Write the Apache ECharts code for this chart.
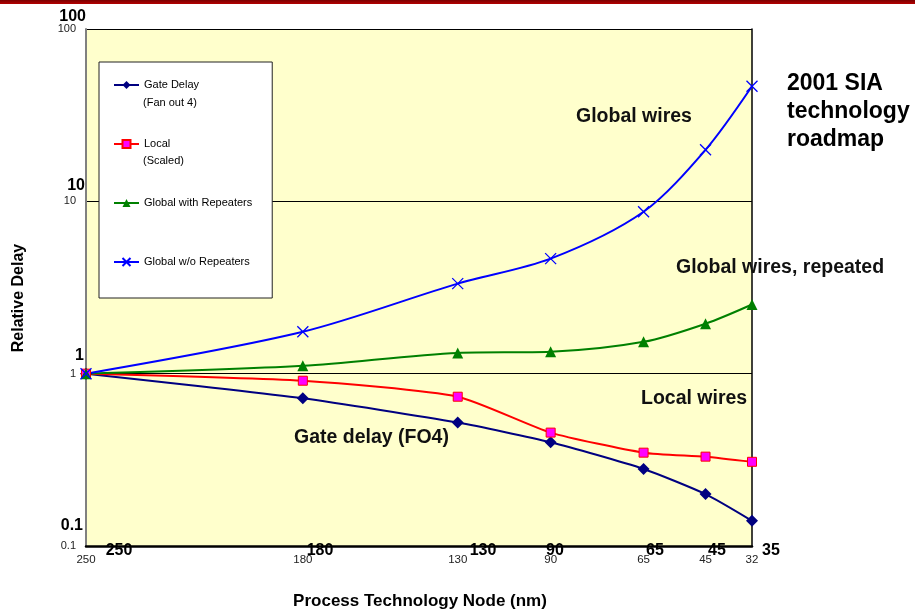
<!DOCTYPE html>
<html>
<head>
<meta charset="utf-8">
<title>Relative Delay vs Process Technology Node</title>
<script src="https://cdn.jsdelivr.net/npm/echarts@6/dist/echarts.min.js"></script>
<style>
  html, body { margin: 0; padding: 0; background: #ffffff; }
  #chart { width: 915px; height: 611px; }
</style>
</head>
<body>
<div id="chart"></div>
<script>
// Roadmap nodes (nm) used as x values, and the labels printed under them
const nodeValues = [250, 180, 130, 100, 70, 50, 35];
const nodeTickLabels = ['250', '180', '130', '90', '65', '45', '32'];
const nodeBoldLabels = ['250', '180', '130', '90', '65', '45', '35'];

// Relative delay, normalised to the 250 nm node
const gateDelay = [1, 0.72, 0.52, 0.40, 0.28, 0.20, 0.14];
const localWire = [1, 0.91, 0.735, 0.455, 0.348, 0.33, 0.308];
const globalRepeated = [1, 1.11, 1.32, 1.34, 1.53, 1.95, 2.52];
const globalUnrepeated = [1, 1.75, 3.33, 4.65, 8.7, 19.9, 46.5];

const seriesNames = ['Gate Delay', 'Local', 'Global with Repeaters', 'Global w/o Repeaters'];
const legendSubLines = ['(Fan out 4)', '(Scaled)'];

const yTickValues = [0.1, 1, 10, 100];
const yBoldLabels = ['0.1', '1', '10', '100'];

const annotations = ['Global wires', 'Global wires, repeated', 'Local wires', 'Gate delay (FO4)'];
const roadmapNote = ['2001 SIA', 'technology', 'roadmap'];
const xTitle = 'Process Technology Node (nm)';
const yTitle = 'Relative Delay';

// ---------------------------------------------------------------------------
const FONT = '"Liberation Sans", Arial, sans-serif';
const pairs = vals => nodeValues.map((x, i) => [x, vals[i]]);
const tickText = {};
nodeValues.forEach((v, i) => { tickText[v] = nodeTickLabels[i]; });

// screen placement of free-standing text
const boldXPos = [119, 320, 483, 555, 655, 717, 771];
const boldYPos = [[83, 526], [84, 356], [85, 186], [86, 17]];
const annotationPos = [[576, 117], [676, 268], [641, 399], [294, 438]];

const graphics = [
  { type: 'rect', left: 0, top: 0, shape: { width: 915, height: 4 },
    style: { fill: new echarts.graphic.LinearGradient(0, 0, 0, 1, [
      { offset: 0, color: '#7a0000' }, { offset: 1, color: '#b40000' }]) }, z: 10 },
  { type: 'text', x: 19, y: 298, rotation: Math.PI / 2,
    style: { text: yTitle, font: 'bold 16px ' + FONT, fill: '#000', align: 'center', verticalAlign: 'middle' } },
  { type: 'text', x: 420, y: 601,
    style: { text: xTitle, font: 'bold 17px ' + FONT, fill: '#000', align: 'center', verticalAlign: 'middle' } },
  { type: 'text', x: 787, y: 70,
    style: { text: roadmapNote.join('\n'), font: 'bold 23px ' + FONT, lineHeight: 28, fill: '#000', align: 'left', verticalAlign: 'top' } }
];
nodeBoldLabels.forEach((t, i) => graphics.push({
  type: 'text', x: boldXPos[i], y: 551, z: 20,
  style: { text: t, font: 'bold 16px ' + FONT, fill: '#000', align: 'center', verticalAlign: 'middle' }
}));
yBoldLabels.forEach((t, i) => graphics.push({
  type: 'text', x: boldYPos[i][0], y: boldYPos[i][1], z: 20,
  style: { text: t, font: 'bold 16px ' + FONT, fill: '#000', align: 'right', verticalAlign: 'middle' }
}));
annotations.forEach((t, i) => graphics.push({
  type: 'text', x: annotationPos[i][0], y: annotationPos[i][1], z: 20,
  style: { text: t, font: 'bold 19.5px ' + FONT, fill: '#111', align: 'left', verticalAlign: 'middle' }
}));
legendSubLines.forEach((t, i) => graphics.push({
  type: 'text', x: 143, y: 103 + i * 58, z: 20,
  style: { text: t, font: '11px ' + FONT, fill: '#000', align: 'left', verticalAlign: 'middle' }
}));

const chart = echarts.init(document.getElementById('chart'), null, { renderer: 'canvas' });

const lineSeries = (name, vals, color, symbol, size, smooth, itemStyle) => ({
  name, type: 'line', data: pairs(vals), smooth,
  symbol, symbolSize: size,
  lineStyle: { color, width: 2 },
  itemStyle: Object.assign({ color }, itemStyle || {}),
  emphasis: { disabled: true },
  z: 5
});

chart.setOption({
  animation: false,
  backgroundColor: '#ffffff',
  textStyle: { fontFamily: FONT },
  grid: { left: 86, top: 29, width: 666, height: 517, show: true,
          backgroundColor: '#FFFFCC', borderWidth: 0 },
  legend: {
    orient: 'vertical', left: 99, top: 62,
    data: seriesNames,
    itemWidth: 25, itemHeight: 10, itemGap: 45,
    padding: [16, 20, 29, 14],
    backgroundColor: '#ffffff', borderColor: '#222', borderWidth: 1,
    textStyle: { fontSize: 11, color: '#000', fontFamily: FONT, lineHeight: 14 },
    selectedMode: false
  },
  xAxis: {
    type: 'value', inverse: true, min: 35, max: 250,
    axisLine: { show: true, lineStyle: { color: '#000', width: 2.5 } },
    axisTick: { show: false },
    splitLine: { show: false },
    axisLabel: {
      customValues: nodeValues,
      formatter: v => tickText[v] || '',
      fontSize: 11.5, color: '#222', margin: 8, fontFamily: FONT
    }
  },
  yAxis: [{
    type: 'log', logBase: 10, min: 0.1, max: 100,
    axisLine: { show: true, lineStyle: { color: '#808080', width: 2 } },
    axisTick: { show: false },
    splitLine: { show: true, lineStyle: { color: '#000', width: 1 } },
    axisLabel: {
      customValues: yTickValues,
      formatter: v => (v < 1 ? '0.1' : String(Math.round(v))),
      fontSize: 11, color: '#222', margin: 10, fontFamily: FONT
    }
  }, {
    type: 'log', logBase: 10, min: 0.1, max: 100, position: 'right',
    axisLine: { show: true, lineStyle: { color: '#000', width: 1.5 } },
    axisTick: { show: false }, axisLabel: { show: false }, splitLine: { show: false }
  }],
  series: [
    lineSeries(seriesNames[0], gateDelay, '#000080', 'diamond', 12, 0.2),
    lineSeries(seriesNames[1], localWire, '#FF0000', 'rect', 9, 0.2,
               { color: '#FF00FF', borderColor: '#FF0000', borderWidth: 1 }),
    lineSeries(seriesNames[2], globalRepeated, '#008000', 'triangle', 11, 0.3),
    lineSeries(seriesNames[3], globalUnrepeated, '#0000FF', 'path://M0,0L10,10M10,0L0,10', 11, 0.3,
               { color: 'none', borderColor: '#0000FF', borderWidth: 1.3 })
  ],
  graphic: graphics
});
</script>
</body>
</html>
